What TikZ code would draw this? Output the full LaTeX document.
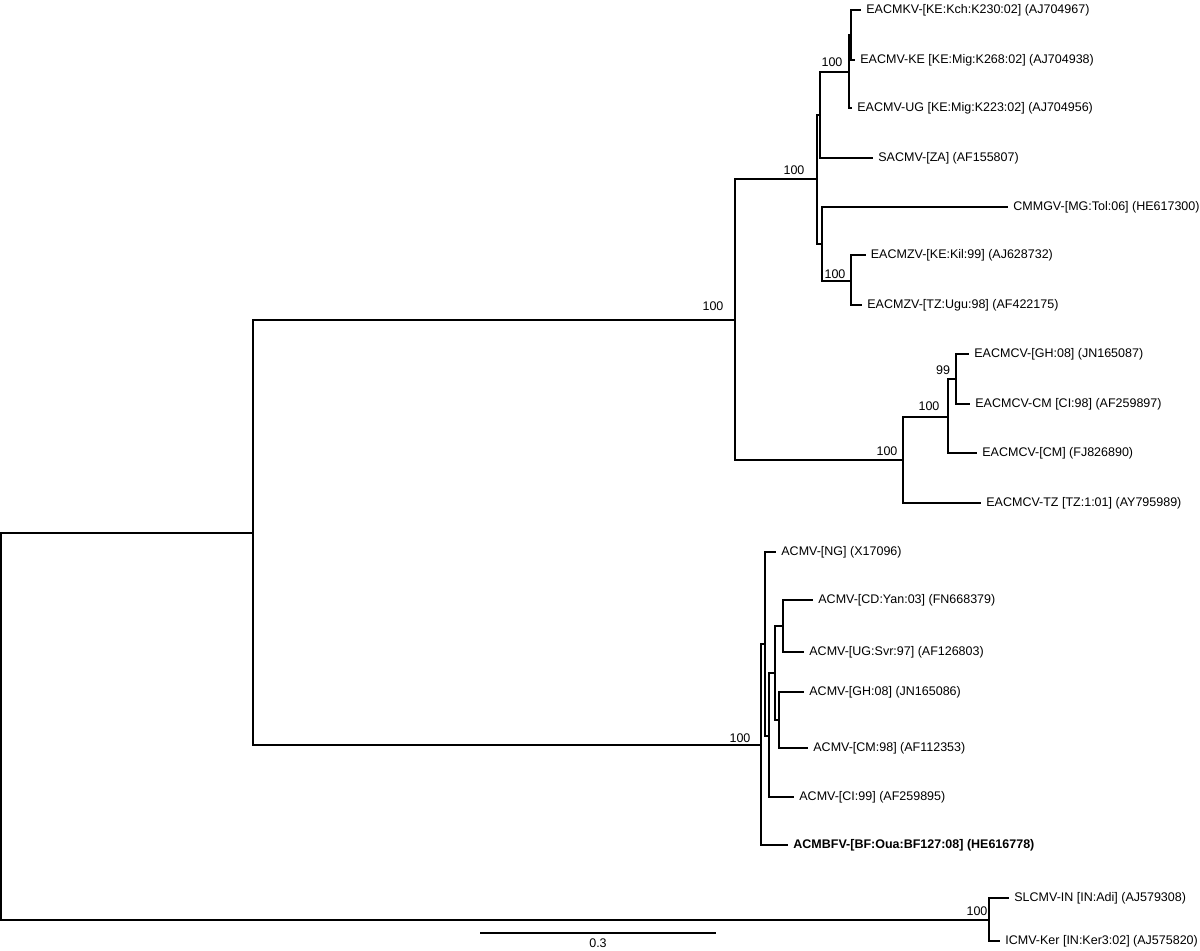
\documentclass[tikz,border=0pt]{standalone}
\usepackage{fontspec}
\setmainfont{Liberation Sans}
\begin{document}
\begin{tikzpicture}[x=0.5pt,y=-0.5pt,
  br/.style={line width=1pt, line join=miter},
  leaf/.style={anchor=west, inner xsep=2.5pt, inner ysep=0pt, font=\fontsize{6.25}{7.5}\selectfont},
  bs/.style={inner sep=0pt, font=\fontsize{6.25}{7.5}\selectfont}]
\useasboundingbox (0,0) rectangle (1200,951);
% internal nodes
\coordinate (R) at (1,726);
\coordinate (A) at (253,533);
\coordinate (S) at (989,919.5);
\coordinate (B) at (735,320);
\coordinate (K) at (761,745);
\coordinate (C) at (816.5,179);
\coordinate (Q) at (903,460);
\coordinate (E) at (820,115);
\coordinate (F) at (822,244);
\coordinate (D) at (848.5,72);
\coordinate (H) at (850.5,35);
\coordinate (G) at (851,281);
\coordinate (I) at (948,417);
\coordinate (J) at (956,379);
\coordinate (L) at (765,644);
\coordinate (M) at (769,736);
\coordinate (N) at (775,673);
\coordinate (O) at (783,626);
\coordinate (P) at (779,720);
% leaves
\node[leaf] (l1) at (861,10) {EACMKV-[KE:Kch:K230:02] (AJ704967)};
\node[leaf] (l2) at (855,60) {EACMV-KE [KE:Mig:K268:02] (AJ704938)};
\node[leaf] (l3) at (852,108) {EACMV-UG [KE:Mig:K223:02] (AJ704956)};
\node[leaf] (l4) at (873,158) {SACMV-[ZA] (AF155807)};
\node[leaf] (l5) at (1008,207) {CMMGV-[MG:Tol:06] (HE617300)};
\node[leaf] (l6) at (865.5,255) {EACMZV-[KE:Kil:99] (AJ628732)};
\node[leaf] (l7) at (862,305) {EACMZV-[TZ:Ugu:98] (AF422175)};
\node[leaf] (l8) at (969,354) {EACMCV-[GH:08] (JN165087)};
\node[leaf] (l9) at (970,404) {EACMCV-CM [CI:98] (AF259897)};
\node[leaf] (l10) at (977,453) {EACMCV-[CM] (FJ826890)};
\node[leaf] (l11) at (981,503) {EACMCV-TZ [TZ:1:01] (AY795989)};
\node[leaf] (l12) at (776,552) {ACMV-[NG] (X17096)};
\node[leaf] (l13) at (813,600) {ACMV-[CD:Yan:03] (FN668379)};
\node[leaf] (l14) at (804,652) {ACMV-[UG:Svr:97] (AF126803)};
\node[leaf] (l15) at (804,692) {ACMV-[GH:08] (JN165086)};
\node[leaf] (l16) at (808,748) {ACMV-[CM:98] (AF112353)};
\node[leaf] (l17) at (794,797) {ACMV-[CI:99] (AF259895)};
\node[leaf, font=\fontsize{6.25}{7.5}\selectfont\bfseries] (l18) at (788,845) {ACMBFV-[BF:Oua:BF127:08] (HE616778)};
\node[leaf] (l19) at (1009,898) {SLCMV-IN [IN:Adi] (AJ579308)};
\node[leaf] (l20) at (1000,941) {ICMV-Ker [IN:Ker3:02] (AJ575820)};
% branches
\draw[br] (R) |- (A);
\draw[br] (R) |- (S);
\draw[br] (A) |- (B);
\draw[br] (A) |- (K);
\draw[br] (B) |- (C);
\draw[br] (B) |- (Q);
\draw[br] (C) |- (E);
\draw[br] (C) |- (F);
\draw[br] (E) |- (D);
\draw[br] (E) |- (l4);
\draw[br] (D) |- (H);
\draw[br] (D) |- (l3);
\draw[br] (H) |- (l1);
\draw[br] (H) |- (l2);
\draw[br] (F) |- (l5);
\draw[br] (F) |- (G);
\draw[br] (G) |- (l6);
\draw[br] (G) |- (l7);
\draw[br] (Q) |- (I);
\draw[br] (Q) |- (l11);
\draw[br] (I) |- (J);
\draw[br] (I) |- (l10);
\draw[br] (J) |- (l8);
\draw[br] (J) |- (l9);
\draw[br] (K) |- (L);
\draw[br] (K) |- (l18);
\draw[br] (L) |- (l12);
\draw[br] (L) |- (M);
\draw[br] (M) |- (N);
\draw[br] (M) |- (l17);
\draw[br] (N) |- (O);
\draw[br] (N) |- (P);
\draw[br] (O) |- (l13);
\draw[br] (O) |- (l14);
\draw[br] (P) |- (l15);
\draw[br] (P) |- (l16);
\draw[br] (S) |- (l19);
\draw[br] (S) |- (l20);
% bootstrap values
\node[bs] (bB) at (713,306) {100};
\node[bs] (bC) at (794,170) {100};
\node[bs] (bD) at (832,62) {100};
\node[bs] (bG) at (835,274) {100};
\node[bs] (bJ) at (943,370) {99};
\node[bs] (bI) at (929,406) {100};
\node[bs] (bQ) at (887,451) {100};
\node[bs] (bK) at (740,738) {100};
\node[bs] (bS) at (977,911) {100};
% scale bar
\coordinate (s1) at (480,933);
\coordinate (s2) at (716,933);
\draw[br] (s1) -- (s2);
\node[bs] (sl) at (598,943) {0.3};
\end{tikzpicture}
\end{document}
